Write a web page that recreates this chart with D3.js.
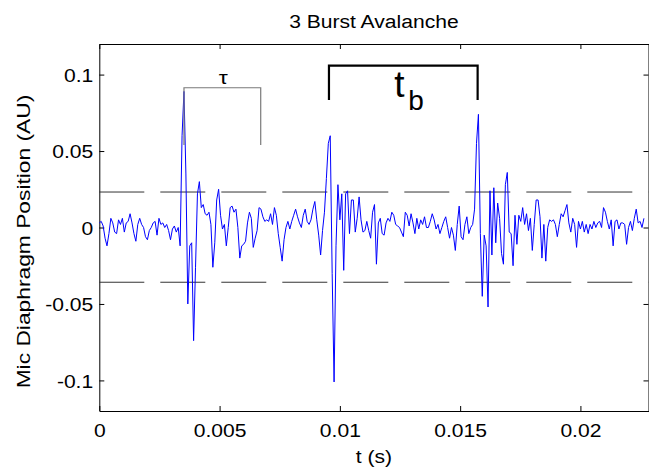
<!DOCTYPE html>
<html>
<head>
<meta charset="utf-8">
<script src="https://cdn.jsdelivr.net/npm/d3@7"></script>
<style>
  body { margin: 0; background: #fff; }
  svg { display: block; }
  text { font-family: "Liberation Sans", Arial, sans-serif; fill: #000; }
</style>
</head>
<body>
<div id="chart"></div>
<script>
// Microphone trace, in units of 0.001 AU, one value per sample
const sampleStep = 0.00008; // seconds between samples
const micMilliAU = [
    3, 4, 1, -7, -12, -4, 6, 3, -3, -4,
    5, 2, 6, -3, 3, 4, 9, 3, -4, -9,
    2, 6, 2, 0, -6, -8, -2, 0, 3, 4,
    -5, 6, 2, 3, 0, 2, -2, -8, -1, 1,
    -3, 0, -12, 60, 89, 35, -50, -12, -10, -74,
    -26, 22, 30, 13, 15, 9, 8, 10, 2, -26,
    -10, 18, 25, 8, -1, 2, -12, 0, 13, 14,
    10, 12, 0, -20, -12, -11, -9, 3, 10, 6,
    -13, -7, -2, 13, 12, 7, 4, 5, 4, 9,
    2, 13, 8, -4, -13, -22, -8, 0, 4, -1,
    4, 8, 12, 7, 3, 0, 8, 12, 4, 2,
    5, 12, 17, 5, -5, -18, -2, 10, 32, 55,
    60, -30, -101, -12, 28, 5, 22, -28, 22, 24,
    -4, 18, 18, -3, 6, 20, 5, -3, -2, 4,
    -2, -7, 10, 15, -24, 3, 6, -4, -5, 3,
    6, 4, 10, 8, 2, 1, 0, -3, -6, 10,
    8, 1, 9, 3, -4, 6, -1, 5, 2, 7,
    0, 0, 4, 9, 5, -1, 2, -4, 0, 4,
    7, 0, -7, 0, -5, -15, 2, 14, -6, -8,
    2, 7, -4, 0, 2, 12, 55, 74, -4, -45,
    -5, -12, -52, 24, -18, 26, -10, 16, 6, -17,
    -24, 28, 36, -3, -4, -25, 8, -11, 8, 4,
    13, 2, 9, -2, 6, -15, 2, 18, 18, 7,
    -20, 2, -22, 0, 5, 4, 5, 2, -6, 2,
    9, 7, 11, 15, 3, -3, 6, 2, -13, 4,
    -1, 4, -3, 2, -4, 2, -1, 4, 0, 3,
    4, 0, 13, 10, 4, -1, 5, -12, 4, 5,
    -1, 3, 3, 2, -11, 0, 4, -2, 6, 12,
    3, 4, 0, 6
];

const xTickValues = [0, 0.005, 0.01, 0.015, 0.02];
const xTickLabels = ["0", "0.005", "0.01", "0.015", "0.02"];
const yTickValues = [-0.1, -0.05, 0, 0.05, 0.1];
const yTickLabels = ["-0.1", "-0.05", "0", "0.05", "0.1"];

// Threshold levels (dashed lines)
const thresholds = [0.0232, -0.0358];

// Annotation brackets: [start, end] in s, [top, leg end] in AU
const tauSpan = [0.00352, 0.00671];
const tauLevels = [0.0914, 0.054];
const burstSpan = [0.009547, 0.015727];
const burstLevels = [0.1058, 0.0834];

const margin = { top: 44, right: 0.5, bottom: 60, left: 99.3 };
const totalWidth = 649, totalHeight = 471;
const width = totalWidth - margin.left - margin.right;
const height = totalHeight - margin.top - margin.bottom;
const fontSize = 19;
const stretch = "scale(1.11,1)"; // the reference glyphs are a bit wide

const data = micMilliAU.map((v, i) => ({ t: i * sampleStep, v: v / 1000 }));

const svg = d3.select("#chart")
    .append("svg")
    .attr("width", totalWidth)
    .attr("height", totalHeight);

const g = svg.append("g")
    .attr("transform", `translate(${margin.left},${margin.top})`);

const x = d3.scaleLinear().domain([0, 0.02283]).range([0, width]);
const y = d3.scaleLinear().domain([-0.12, 0.12]).range([height, 0]);

// Axes box with inward ticks (MATLAB style)
const xAxis = g.append("g")
    .attr("transform", `translate(0,${height})`)
    .call(d3.axisBottom(x)
        .tickValues(xTickValues)
        .tickFormat((d, i) => xTickLabels[i])
        .tickSizeInner(-5)
        .tickSizeOuter(0)
        .tickPadding(12.5));

const yAxis = g.append("g")
    .call(d3.axisLeft(y)
        .tickValues(yTickValues)
        .tickFormat((d, i) => yTickLabels[i])
        .tickSizeInner(-5)
        .tickSizeOuter(0)
        .tickPadding(5.5));

g.append("g")
    .call(d3.axisTop(x).tickValues(xTickValues).tickFormat("").tickSizeInner(-5).tickSizeOuter(0));

g.append("g")
    .attr("transform", `translate(${width},0)`)
    .call(d3.axisRight(y).tickValues(yTickValues).tickFormat("").tickSizeInner(-5).tickSizeOuter(0));

g.selectAll(".domain").attr("stroke", "#000").attr("stroke-width", 1);
g.selectAll(".tick line").attr("stroke", "#000");

[xAxis, yAxis].forEach(ax => ax.selectAll("text")
    .attr("font-family", "Liberation Sans, Arial, sans-serif")
    .attr("font-size", fontSize)
    .attr("fill", "#000")
    .attr("transform", stretch));
yAxis.selectAll("text").attr("dy", "0.35em");

// Threshold lines
g.selectAll(".threshold")
    .data(thresholds)
    .enter().append("line")
    .attr("class", "threshold")
    .attr("x1", 0)
    .attr("x2", width)
    .attr("y1", d => y(d))
    .attr("y2", d => y(d))
    .attr("stroke", "#333")
    .attr("stroke-width", 1)
    .attr("stroke-dasharray", "45,16");

// Signal
const line = d3.line().x(d => x(d.t)).y(d => y(d.v));
g.append("path")
    .datum(data)
    .attr("fill", "none")
    .attr("stroke", "#0000ff")
    .attr("stroke-width", 1)
    .attr("d", line);

// Brackets
function bracket(span, levels, color, w) {
    const pts = [[span[0], levels[1]], [span[0], levels[0]], [span[1], levels[0]], [span[1], levels[1]]];
    g.append("path")
        .attr("d", d3.line().x(d => x(d[0])).y(d => y(d[1]))(pts))
        .attr("fill", "none")
        .attr("stroke", color)
        .attr("stroke-width", w);
}
bracket(tauSpan, tauLevels, "#7a7a7a", 1.2);
bracket(burstSpan, burstLevels, "#000", 2.2);

// tau label
const tauX = x((tauSpan[0] + tauSpan[1]) / 2);
g.append("text")
    .attr("transform", `translate(${tauX + 1},${y(tauLevels[0]) - 4}) scale(1.2,1)`)
    .attr("text-anchor", "middle")
    .style("font-size", "19px")
    .text("τ");

// t_b label
const burstX = x((burstSpan[0] + burstSpan[1]) / 2);
const tb = g.append("g")
    .attr("transform", `translate(${burstX - 9},${y(burstLevels[0])})`);
tb.append("text")
    .attr("x", 0)
    .attr("y", 31)
    .style("font-size", "37px")
    .text("t");
tb.append("text")
    .attr("x", 14)
    .attr("y", 44.3)
    .style("font-size", "28px")
    .text("b");

// Title and axis labels
svg.append("text")
    .attr("transform", `translate(${margin.left + width / 2},28.3) ${stretch}`)
    .attr("text-anchor", "middle")
    .style("font-size", fontSize + "px")
    .text("3 Burst Avalanche");

svg.append("text")
    .attr("transform", `translate(${margin.left + width / 2},463) ${stretch}`)
    .attr("text-anchor", "middle")
    .style("font-size", fontSize + "px")
    .text("t (s)");

svg.append("text")
    .attr("transform", `translate(30,${margin.top + height / 2 + 14}) rotate(-90) scale(1.2,1)`)
    .attr("text-anchor", "middle")
    .style("font-size", fontSize + "px")
    .text("Mic Diaphragm Position (AU)");
</script>
</body>
</html>
